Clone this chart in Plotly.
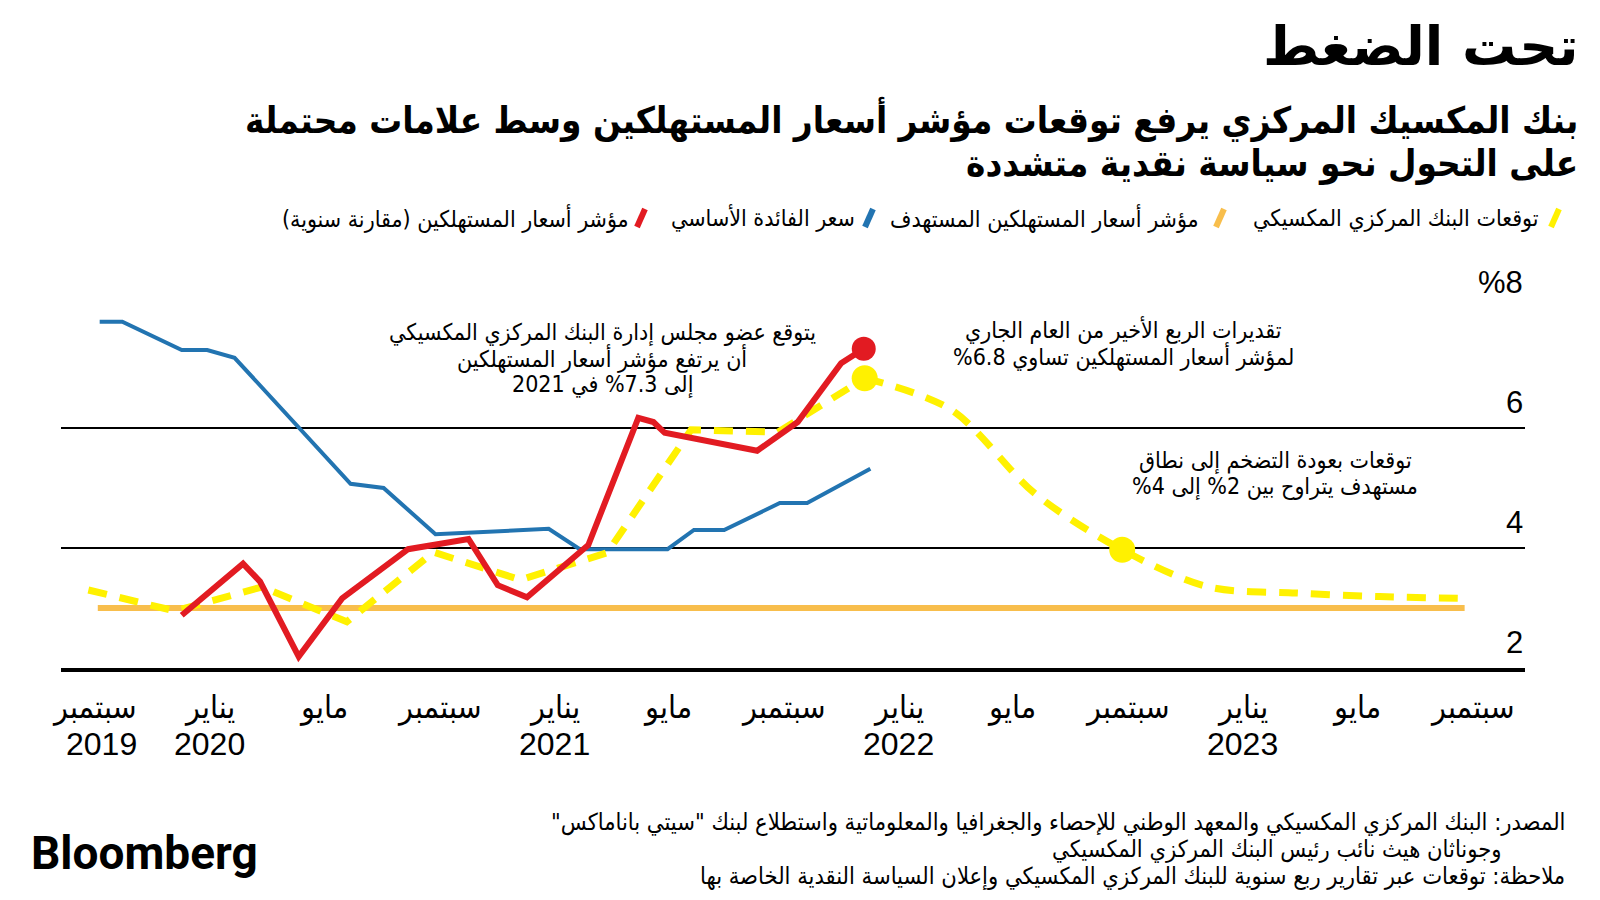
import plotly.graph_objects as go

# ---------------- data ----------------
rate_dates = ["2019-09-07", "2019-10-01", "2019-12-03", "2019-12-30", "2020-01-28",
              "2020-05-30", "2020-07-04", "2020-08-28", "2020-12-26", "2021-01-28",
              "2021-05-01", "2021-05-29", "2021-06-30", "2021-08-28", "2021-09-26",
              "2021-12-02"]
rate_values = [7.77, 7.77, 7.30, 7.30, 7.17, 5.07, 5.00, 4.23, 4.32, 3.98,
               3.98, 4.30, 4.30, 4.75, 4.75, 5.32]

cpi_dates = ["2019-12-03", "2020-02-06", "2020-02-24", "2020-04-05", "2020-05-21",
             "2020-07-30", "2020-10-02", "2020-11-02", "2020-12-03", "2021-02-06",
             "2021-03-31", "2021-04-16", "2021-04-28", "2021-08-04", "2021-09-16",
             "2021-11-01", "2021-11-25"]
cpi_values = [2.88, 3.74, 3.44, 2.19, 3.16, 3.98, 4.15, 3.38, 3.18, 4.05,
              6.17, 6.10, 5.92, 5.62, 6.10, 7.08, 7.32]

forecast_dates = ["2019-08-26", "2019-11-26", "2020-02-26", "2020-05-26", "2020-08-26",
                  "2020-11-26", "2021-02-26", "2021-05-26", "2021-08-26", "2021-11-26",
                  "2022-02-26", "2022-05-26", "2022-08-26", "2022-11-26", "2023-02-26",
                  "2023-05-26", "2023-08-26"]
forecast_values = [3.30, 2.95, 3.35, 2.77, 3.93, 3.47, 3.92, 5.97, 5.93, 6.83,
                   6.30, 4.90, 3.97, 3.35, 3.25, 3.19, 3.16]
forecast_highlight = ["2021-11-26", "2022-08-26"]
projection_start = "2021-11-26"

target_dates = ["2019-09-05", "2023-08-24"]
target_values = [3.0, 3.0]

tick_dates = ["2019-09-01", "2020-01-01", "2020-05-01", "2020-09-01", "2021-01-01",
              "2021-05-01", "2021-09-01", "2022-01-01", "2022-05-01", "2022-09-01",
              "2023-01-01", "2023-05-01", "2023-09-01"]
tick_months = ["سبتمبر", "يناير", "مايو", "سبتمبر", "يناير", "مايو", "سبتمبر",
               "يناير", "مايو", "سبتمبر", "يناير", "مايو", "سبتمبر"]
tick_years = ["2019", "2020", "", "", "2021", "", "", "2022", "", "", "2023", "", ""]

y_ticks = [2, 4, 6, 8]
y_tick_text = ["2", "4", "6", "%8"]

# ---------------- styling ----------------
RED = "#E21B22"
BLUE = "#2274B1"
ORANGE = "#F8BE4C"
YELLOW = "#FFF100"
ARABIC = "DejaVu Sans Condensed, DejaVu Sans, sans-serif"
NUM = "Liberation Sans, Arial, sans-serif"
YEAR_XSHIFT = {"2019": 7}

OFF = 8                          # page body margin of the html page
FW, FH = 1600 - OFF, 900 - OFF   # figure size so it ends at the window edge
L, R, T, B = 61, 1525, 308, 668  # plot box in page pixels


def px(x):
    return (x - L) / (R - L)


def py(y):
    return (B - y) / (B - T)


def rtl(s):
    return "\u202b" + s + "\u202c"


fig = go.Figure()

fig.add_trace(go.Scatter(x=target_dates, y=target_values, mode="lines",
                         line=dict(color=ORANGE, width=6), hoverinfo="skip"))
fig.add_trace(go.Scatter(x=rate_dates, y=rate_values, mode="lines",
                         line=dict(color=BLUE, width=4), hoverinfo="skip"))

k = forecast_dates.index(projection_start)
dash_style = dict(color=YELLOW, width=7, dash="19px,13px")
fig.add_trace(go.Scatter(x=forecast_dates[:k + 1], y=forecast_values[:k + 1], mode="lines",
                         line=dash_style, hoverinfo="skip"))
fig.add_trace(go.Scatter(x=forecast_dates[k:], y=forecast_values[k:], mode="lines",
                         line=dict(dash_style, shape="spline", smoothing=0.9),
                         hoverinfo="skip"))
fig.add_trace(go.Scatter(x=cpi_dates, y=cpi_values, mode="lines",
                         line=dict(color=RED, width=6), hoverinfo="skip"))

hl_vals = [forecast_values[forecast_dates.index(d)] for d in forecast_highlight]
fig.add_trace(go.Scatter(x=forecast_highlight, y=hl_vals, mode="markers",
                         marker=dict(color=YELLOW, size=26), hoverinfo="skip"))
fig.add_trace(go.Scatter(x=[cpi_dates[-1]], y=[cpi_values[-1]], mode="markers",
                         marker=dict(color=RED, size=24), hoverinfo="skip"))

ann = []


def text_at(x, y, text, font, xanchor="center"):
    ann.append(dict(x=px(x), y=py(y), xref="paper", yref="paper", showarrow=False,
                    xanchor=xanchor, yanchor="middle", text=text, font=font))


# y labels
for v, t in zip(y_ticks, y_tick_text):
    ann.append(dict(x=1, xref="paper", y=v, yref="y", text=t, showarrow=False,
                    xanchor="right", yanchor="bottom", yshift=6,
                    font=dict(family=NUM, size=31, color="black")))
# x labels
for d, m, yr in zip(tick_dates, tick_months, tick_years):
    ann.append(dict(x=d, xref="x", y=py(707), yref="paper", text=m, showarrow=False,
                    xanchor="center", yanchor="middle",
                    font=dict(family=ARABIC, size=32, color="black")))
    if yr:
        ann.append(dict(x=d, xref="x", y=py(744), yref="paper", text=yr, showarrow=False,
                        xanchor="center", yanchor="middle", xshift=YEAR_XSHIFT.get(yr, 0),
                        font=dict(family=NUM, size=32, color="black")))

# title & subtitle
text_at(1580, 47, "<b>" + rtl("تحت الضغط") + "</b>",
        dict(family="DejaVu Sans, sans-serif", size=54, color="black"), "right")
sub_font = dict(family=ARABIC, size=36.5, color="black")
text_at(1580, 119, "<b>" + rtl("بنك المكسيك المركزي يرفع توقعات مؤشر أسعار المستهلكين وسط علامات محتملة") + "</b>",
        sub_font, "right")
text_at(1580, 163, "<b>" + rtl("على التحول نحو سياسة نقدية متشددة") + "</b>", sub_font, "right")

# legend
legend_items = [
    (1541, 1555, YELLOW, "توقعات البنك المركزي المكسيكي"),
    (1201, 1220, ORANGE, "مؤشر أسعار المستهلكين المستهدف"),
    (857, 869, BLUE, "سعر الفائدة الأساسي"),
    (631, 641, RED, "مؤشر أسعار المستهلكين (مقارنة سنوية)"),
]
shapes = []
leg_font = dict(family=ARABIC, size=23, color="black")
for tx, sx, col, label in legend_items:
    text_at(tx, 218, rtl(label), leg_font, "right")
    shapes.append(dict(type="line", xref="paper", yref="paper",
                       x0=px(sx - 4), y0=py(227), x1=px(sx + 4), y1=py(209),
                       line=dict(color=col, width=6)))

# in-chart notes (one annotation per line)
note_font = dict(family=ARABIC, size=23, color="black")
for y, s in zip([332, 358, 384], ["يتوقع عضو مجلس إدارة البنك المركزي المكسيكي",
                                  "أن يرتفع مؤشر أسعار المستهلكين",
                                  "إلى 7.3% في 2021"]):
    text_at(602, y, rtl(s), note_font)
for y, s in zip([330, 356], ["تقديرات الربع الأخير من العام الجاري",
                             "لمؤشر أسعار المستهلكين تساوي 6.8%"]):
    text_at(1123, y, rtl(s), note_font)
for y, s in zip([460, 486], ["توقعات بعودة التضخم إلى نطاق",
                             "مستهدف يتراوح بين 2% إلى 4%"]):
    text_at(1275, y, rtl(s), note_font)

# footer
foot_font = dict(family=ARABIC, size=23.5, color="black")
text_at(1567, 822, rtl("المصدر: البنك المركزي المكسيكي والمعهد الوطني للإحصاء والجغرافيا والمعلوماتية واستطلاع لبنك \"سيتي باناماكس\""),
        foot_font, "right")
text_at(1503, 849, rtl("وجوناثان هيث نائب رئيس البنك المركزي المكسيكي"), foot_font, "right")
text_at(1567, 876, rtl("ملاحظة: توقعات عبر تقارير ربع سنوية للبنك المركزي المكسيكي وإعلان السياسة النقدية الخاصة بها"),
        foot_font, "right")
text_at(29, 853, "<b>Bloomberg</b>",
        dict(family="Roboto, Liberation Sans, sans-serif", size=46, color="black", weight=900),
        "left")

fig.update_layout(
    width=FW, height=FH,
    margin=dict(l=L - OFF, r=FW - (R - OFF), t=T - OFF, b=FH - (B - OFF), pad=0),
    paper_bgcolor="white", plot_bgcolor="white",
    showlegend=False,
    annotations=ann,
    shapes=shapes,
    xaxis=dict(type="date", range=["2019-07-28", "2023-10-27"], showgrid=False,
               showticklabels=False, ticks="", showline=True, linecolor="black",
               linewidth=4, zeroline=False, fixedrange=True),
    yaxis=dict(range=[2, 8], tickvals=[4, 6, 8], showgrid=True, gridcolor="black",
               gridwidth=2, showticklabels=False, ticks="", zeroline=False,
               showline=False, fixedrange=True),
)

fig.write_html("out.html")
